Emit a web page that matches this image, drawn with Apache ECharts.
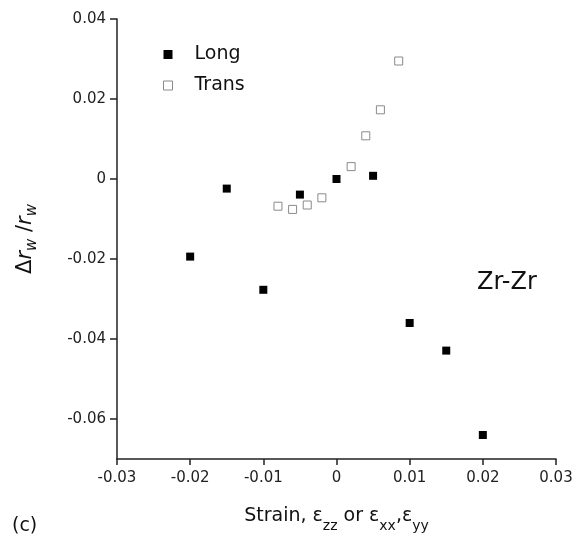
<!DOCTYPE html>
<html><head><meta charset="utf-8">
<script src="https://cdn.jsdelivr.net/npm/echarts@6/dist/echarts.min.js"></script>
<style>html,body{margin:0;padding:0;background:#fff}#c{width:583px;height:538px}</style>
</head><body><div id="c"></div>
<script>
const longX = [-0.02, -0.015, -0.01, -0.005, 0.0, 0.005, 0.01, 0.015, 0.02];
const longY = [-0.0194, -0.0024, -0.0277, -0.0039, 0.0, 0.0008, -0.036, -0.0429, -0.064];
const transX = [-0.008, -0.006, -0.004, -0.002, 0.002, 0.004, 0.006, 0.0085];
const transY = [-0.0068, -0.0076, -0.0065, -0.0047, 0.0031, 0.0108, 0.0173, 0.0295];
const xTicks = [-0.03, -0.02, -0.01, 0, 0.01, 0.02, 0.03];
const yTicks = [-0.06, -0.04, -0.02, 0, 0.02, 0.04];

const zip = (a, b) => a.map((v, i) => [v, b[i]]);
const fmt = v => (Math.abs(v) < 1e-9 ? '0' : (+v.toFixed(2)).toString());
const FONT = 'DejaVu Sans';
const transStyle = {color: '#fff', borderColor: '#8a8a8a', borderWidth: 1, opacity: 1};

const chart = echarts.init(document.getElementById('c'), null, {renderer: 'canvas'});
chart.setOption({
  animation: false,
  backgroundColor: '#fff',
  grid: {left: 117, right: 27, top: 19, bottom: 79, containLabel: false},
  legend: {
    orient: 'vertical', left: 158, top: 40, itemWidth: 9, itemHeight: 9, itemGap: 12, padding: 5,
    data: [
      {name: 'Long', icon: 'rect', itemStyle: {color: '#000', borderWidth: 0}},
      {name: 'Trans', icon: 'rect', itemStyle: transStyle}
    ],
    textStyle: {fontFamily: FONT, fontSize: 19, color: '#111', padding: [0, 0, 0, 17]}
  },
  xAxis: {
    type: 'value', min: -0.03, max: 0.03,
    axisLine: {show: true, onZero: false, lineStyle: {color: '#222', width: 1.5}},
    axisTick: {show: true, inside: false, length: 6, customValues: xTicks, lineStyle: {color: '#222', width: 1.5}},
    axisLabel: {customValues: xTicks, formatter: fmt, margin: 12, fontFamily: FONT, fontSize: 15, color: '#222'},
    splitLine: {show: false},
    name: '{t|Strain, ε}{s|zz}{t| or ε}{s|xx}{t|,ε}{s|yy}',
    nameLocation: 'middle', nameGap: 48,
    nameTextStyle: {
      rich: {
        t: {fontFamily: FONT, fontSize: 19, color: '#111', verticalAlign: 'top', lineHeight: 26},
        s: {fontFamily: FONT, fontSize: 14, color: '#111', verticalAlign: 'bottom', padding: [12, 0, 0, 0], lineHeight: 26}
      }
    }
  },
  yAxis: {
    type: 'value', min: -0.07, max: 0.04,
    axisLine: {show: true, onZero: false, lineStyle: {color: '#222', width: 1.5}},
    axisTick: {show: true, inside: false, length: 7, customValues: yTicks, lineStyle: {color: '#222', width: 1.5}},
    axisLabel: {customValues: yTicks, formatter: fmt, margin: 11, fontFamily: FONT, fontSize: 15, color: '#222'},
    splitLine: {show: false},
    name: '{t|Δ}{i|r}{s|w}{t| /}{i|r}{s|w}',
    nameLocation: 'middle', nameGap: 77, nameRotate: 90,
    nameTextStyle: {
      rich: {
        t: {fontFamily: FONT, fontSize: 21, color: '#111', lineHeight: 28},
        i: {fontFamily: FONT, fontSize: 21, fontStyle: 'italic', color: '#111', lineHeight: 28},
        s: {fontFamily: FONT, fontSize: 15, fontStyle: 'italic', color: '#111', padding: [12, 0, 0, 0], lineHeight: 28}
      }
    }
  },
  graphic: [
    {type: 'text', left: 477, top: 271, style: {text: 'Zr-Zr', fontFamily: FONT, fontSize: 24, fill: '#111'}},
    {type: 'text', left: 12, top: 517, style: {text: '(c)', fontFamily: FONT, fontSize: 19, fill: '#111'}}
  ],
  series: [
    {name: 'Long', type: 'scatter', symbol: 'rect', symbolSize: 8, data: zip(longX, longY),
     itemStyle: {color: '#000', opacity: 1}},
    {name: 'Trans', type: 'scatter', symbol: 'rect', symbolSize: 8, data: zip(transX, transY),
     itemStyle: transStyle}
  ]
});
</script></body></html>
